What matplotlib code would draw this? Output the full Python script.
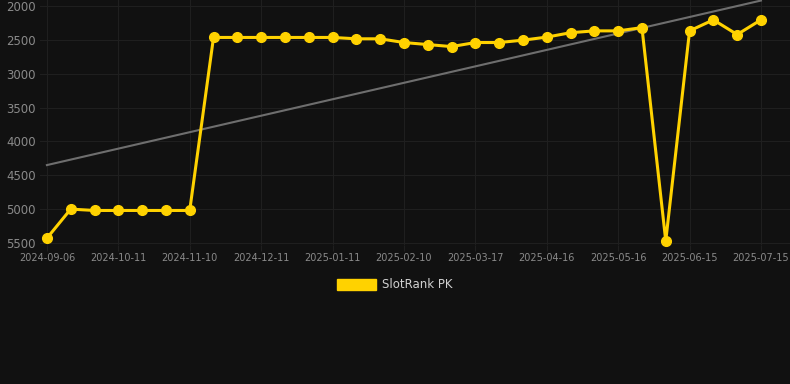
#!/usr/bin/env python3
"""SlotRank PK rank history with trend line."""

import matplotlib
matplotlib.use("Agg")
import matplotlib.pyplot as plt
from matplotlib.patches import Patch

# rank per sample (lower is better, axis inverted)
ranks = [5430, 5000, 5020, 5020, 5020, 5020, 5020,
         2465, 2465, 2465, 2465, 2465, 2465,
         2485, 2485, 2540, 2570, 2600, 2540, 2540, 2505,
         2460, 2395, 2368, 2368, 2320, 5470, 2368, 2205, 2422, 2205]

# every third sample carries a date label
tick_labels = ["2024-09-06", "2024-10-11", "2024-11-10", "2024-12-11",
               "2025-01-11", "2025-02-10", "2025-03-17", "2025-04-16",
               "2025-05-16", "2025-06-15", "2025-07-15"]
tick_step = 3

# trend line end values (first and last sample)
trend_ends = [4350, 1920]

y_ticks = [2000, 2500, 3000, 3500, 4000, 4500, 5000, 5500]

BG = "#111111"
GOLD = "#FFD200"
GRID = "#1f1f1f"
TEXT = "#8a8a8a"


def main():
    fig = plt.figure(figsize=(7.9, 3.84), dpi=100, facecolor=BG)
    ax = fig.add_axes([40 / 790, 1 - 245 / 384, 750 / 790, 245 / 384])
    ax.set_facecolor(BG)

    xs = list(range(len(ranks)))

    # trend line
    ax.plot([xs[0], xs[-1]], trend_ends, color="#6e6e6e", linewidth=1.5,
            zorder=2)

    ax.plot(xs, ranks, color=GOLD, linewidth=2.2, marker="o",
            markersize=7, markerfacecolor=GOLD, markeredgecolor=GOLD,
            zorder=3, clip_on=False)

    ax.set_xlim(-0.29, len(ranks) - 1 + 1.22)
    ax.set_ylim(5530, 1912)

    ax.set_xticks(xs[::tick_step])
    ax.set_xticklabels(tick_labels)
    ax.set_yticks(y_ticks)
    ax.set_yticklabels([str(v) for v in y_ticks])

    ax.grid(True, color=GRID, linewidth=0.8)
    ax.set_axisbelow(True)
    for s in ax.spines.values():
        s.set_visible(False)

    ax.tick_params(axis="x", colors=GRID, labelcolor=TEXT, labelsize=7,
                   length=4, pad=2)
    ax.tick_params(axis="y", length=0, labelcolor=TEXT, labelsize=8.5,
                   pad=3)

    handle = Patch(facecolor=GOLD, edgecolor=GOLD, label="SlotRank PK")
    leg = fig.legend(handles=[handle], loc="center",
                     bbox_to_anchor=(0.5, 1 - 285 / 384), frameon=False,
                     fontsize=8.5, handlelength=3.3, handleheight=1.0,
                     handletextpad=0.5)
    for t in leg.get_texts():
        t.set_color("#d0d0d0")

    fig.savefig("out.png", dpi=100, facecolor=BG)


if __name__ == "__main__":
    main()
